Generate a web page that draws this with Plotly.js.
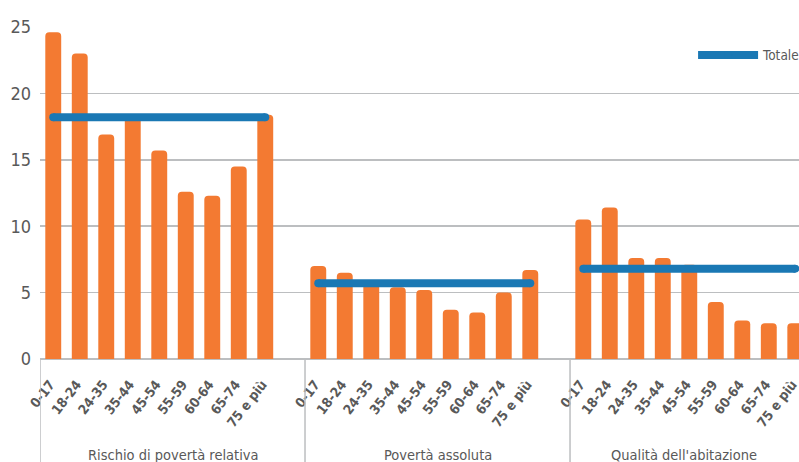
<!DOCTYPE html>
<html>
<head>
<meta charset="utf-8">
<script src="https://cdn.plot.ly/plotly-3.0.1.min.js"></script>
<style>
html,body{margin:0;padding:0;background:#fff;}
#chart{width:799px;height:462px;}
#chart text{font-stretch:condensed;}
</style>
</head>
<body>
<div id="chart"></div>
<script>
const groups = ['Rischio di povertà relativa', 'Povertà assoluta', "Qualità dell'abitazione"];
const ages = ['0-17', '18-24', '24-35', '35-44', '45-54', '55-59', '60-64', '65-74', '75 e più'];
const relativa = [24.6, 23.0, 16.9, 18.3, 15.7, 12.6, 12.3, 14.5, 18.4];
const assoluta = [7.0, 6.5, 5.8, 5.4, 5.2, 3.7, 3.5, 5.0, 6.7];
const abitazione = [10.5, 11.4, 7.6, 7.6, 7.1, 4.3, 2.9, 2.7, 2.7];
const totale = [18.2, 5.7, 6.8];
const yTicks = [0, 5, 10, 15, 20, 25];

const series = [relativa, assoluta, abitazione];
const FONT = '"DejaVu Sans Condensed", "DejaVu Sans", sans-serif';
const TXT = '#595959';
const ORANGE = '#F37A32';
const BLUE = '#1A78B4';
const GRID = '#BCBEC0';

// each group occupies ages.length + 1 slots (one blank spacer slot)
const slots = ages.length + 1;
const bx = [], by = [], tickvals = [], ticktext = [];
const lx = [], ly = [];
const shapes = [], annotations = [];
series.forEach((vals, g) => {
  const start = g * slots;
  vals.forEach((v, i) => {
    bx.push(start + i); by.push(v);
    tickvals.push(start + i); ticktext.push(ages[i]);
  });
  lx.push(start, start + ages.length - 1, null);
  ly.push(totale[g], totale[g], null);
  shapes.push({type: 'line', xref: 'x', yref: 'paper', x0: start - 0.5, x1: start - 0.5,
    y0: 0, y1: -0.32, line: {color: GRID, width: 1.5}});
  annotations.push({xref: 'x', yref: 'paper', x: start + (g < series.length - 1 ? ages.length / 2 : (ages.length - 1) / 2 - 0.2),
    y: -0.29, yanchor: 'middle', showarrow: false, text: groups[g],
    font: {family: FONT, size: 14.5, color: TXT}});
});

const traces = [
  {type: 'bar', x: bx, y: by, marker: {color: ORANGE, cornerradius: 4}, width: 0.6,
   showlegend: false, hoverinfo: 'y'},
  {type: 'scatter', mode: 'lines+markers', x: lx, y: ly, name: 'Totale',
   line: {color: BLUE, width: 8}, marker: {color: BLUE, size: 8}, connectgaps: false}
];

const layout = {
  width: 799, height: 462,
  margin: {l: 40, r: 0, t: 27, b: 103, autoexpand: false},
  paper_bgcolor: '#fff', plot_bgcolor: '#fff',
  font: {family: FONT, color: TXT},
  showlegend: true,
  legend: {x: 1.008, xanchor: 'right', y: 0.915, yanchor: 'middle', bgcolor: 'rgba(0,0,0,0)',
    font: {family: FONT, size: 13.5, color: TXT}, itemwidth: 60},
  xaxis: {type: 'linear', range: [-0.5, 28.14], tickvals: tickvals, ticktext: ticktext,
    tickangle: -52, tickfont: {family: FONT, size: 13.5, color: TXT, weight: 'bold'},
    ticklabeloverflow: 'allow', ticklabelstandoff: 14, ticklabelshift: -3, automargin: false,
    showgrid: false, zeroline: false, showline: false, ticks: '', fixedrange: true},
  yaxis: {range: [0, 25], tickvals: yTicks, showgrid: true, gridcolor: GRID, gridwidth: 1.5,
    zeroline: true, zerolinecolor: GRID, zerolinewidth: 2, showline: false, ticks: '',
    tickfont: {family: FONT, size: 18, color: TXT}, ticklabelstandoff: 8, automargin: false},
  shapes: shapes,
  annotations: annotations
};

Plotly.newPlot('chart', traces, layout, {displayModeBar: false, staticPlot: true});
</script>
</body>
</html>
